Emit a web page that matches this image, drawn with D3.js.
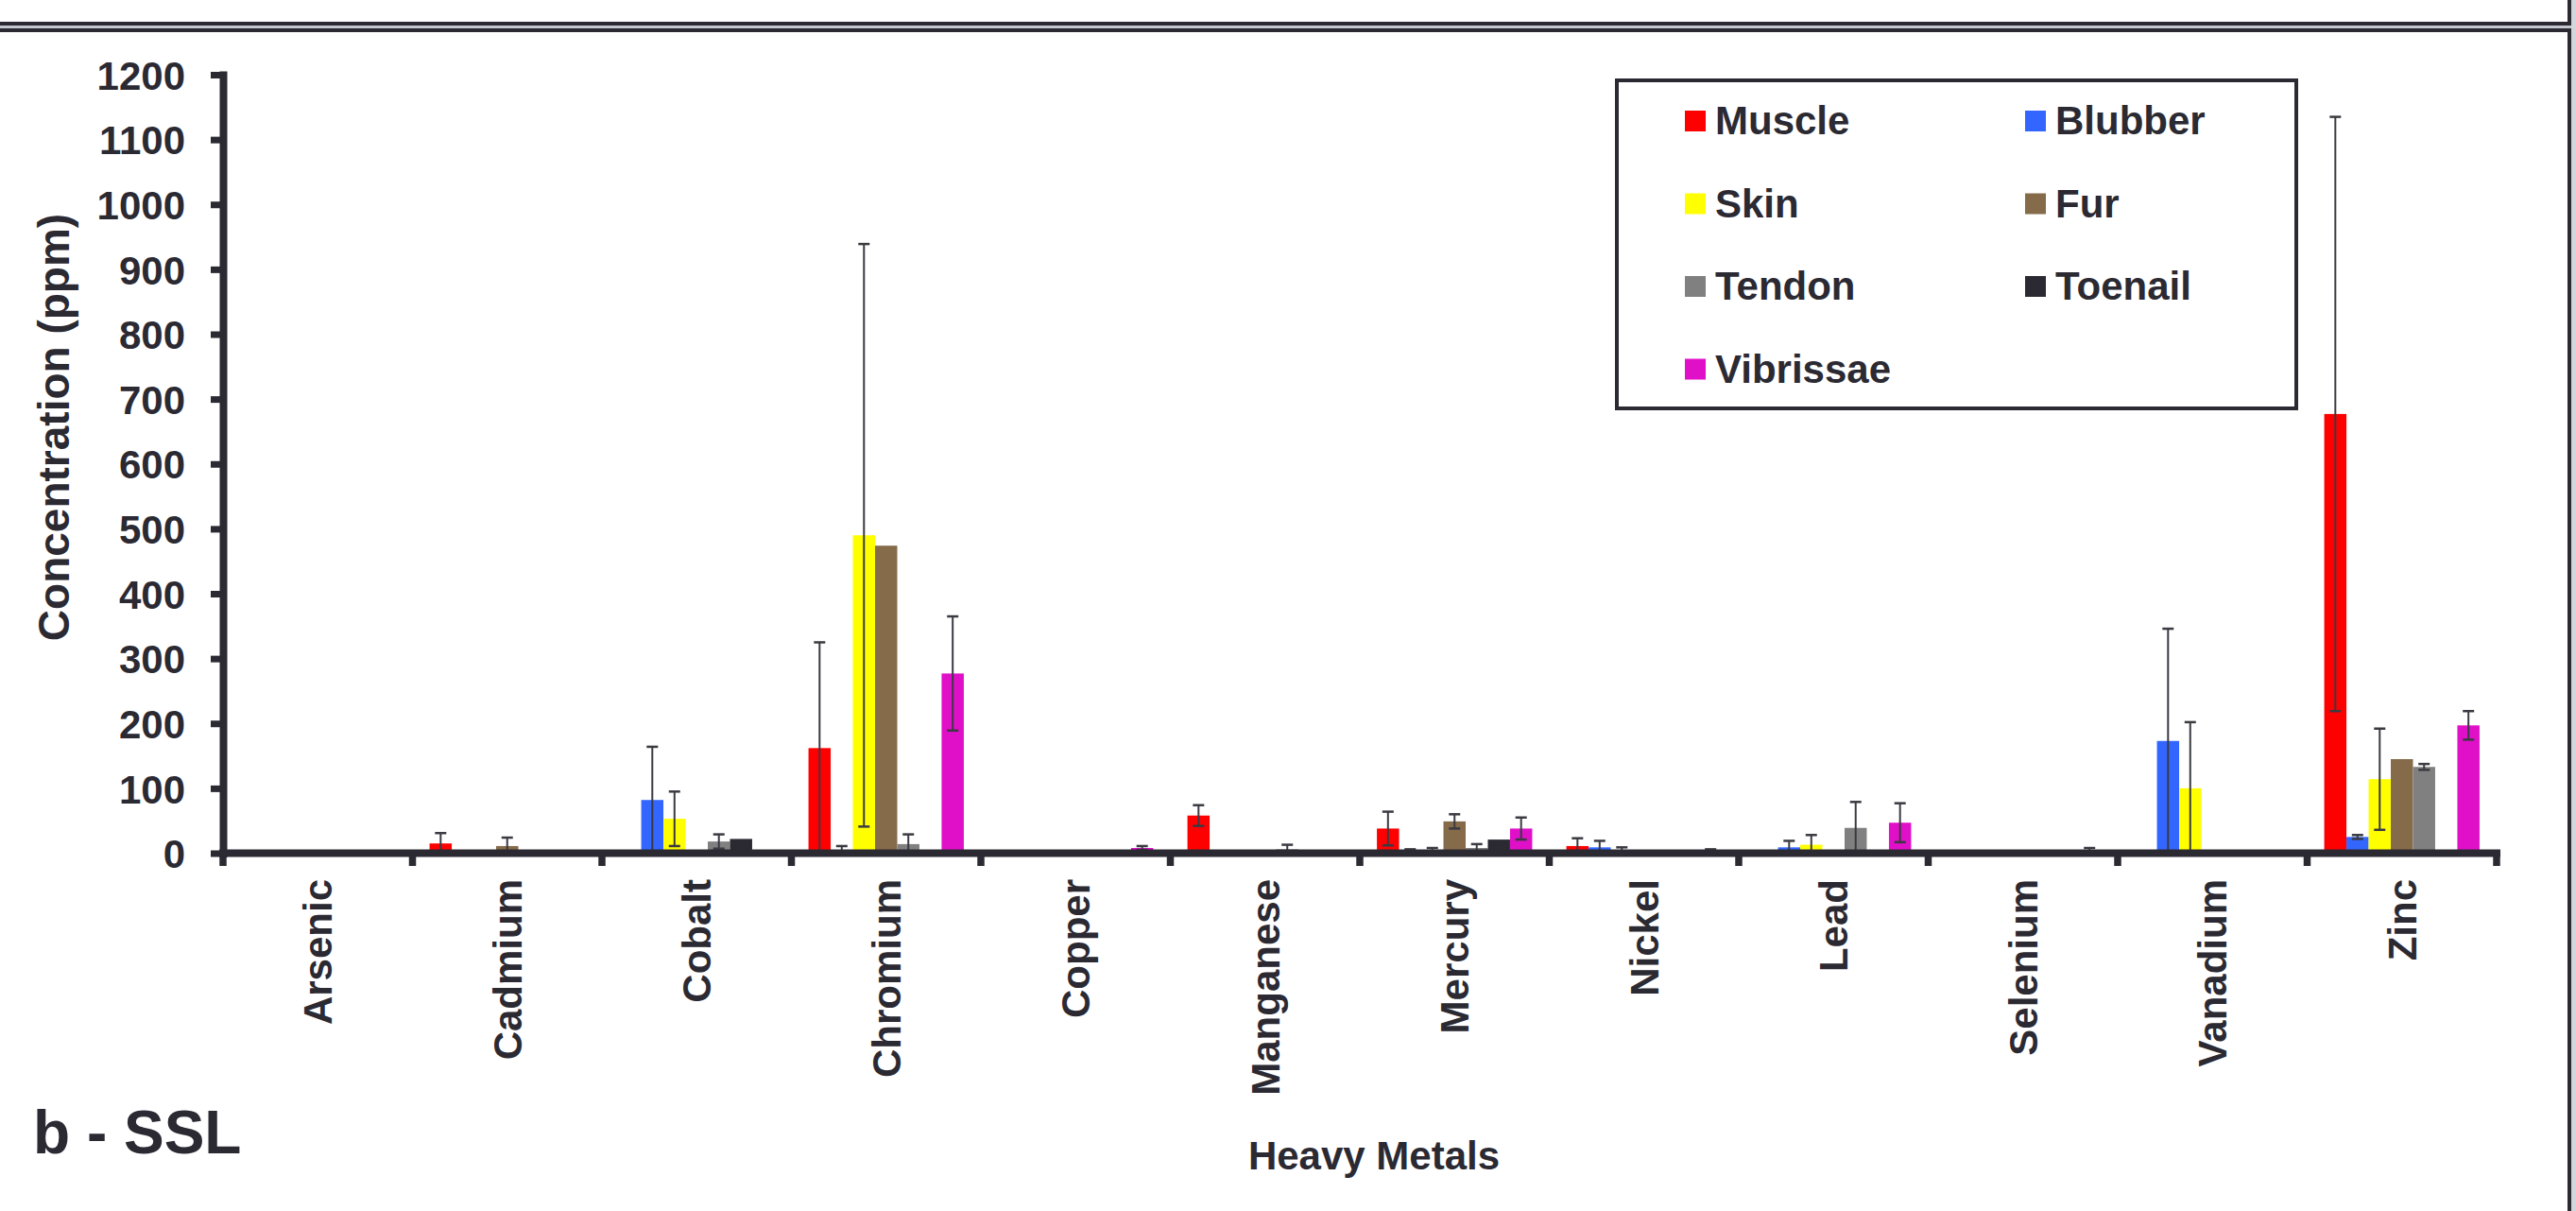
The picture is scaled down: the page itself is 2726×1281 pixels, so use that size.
<!DOCTYPE html>
<html>
<head>
<meta charset="utf-8">
<script src="https://cdn.jsdelivr.net/npm/d3@7"></script>
<style>
  html, body { margin: 0; padding: 0; background: #ffffff; }
  svg { display: block; }
  text { font-family: "Liberation Sans", Arial, sans-serif; font-weight: bold; fill: #2b2a33; }
</style>
</head>
<body>
<svg id="chart" width="2726" height="1281"></svg>
<script>
// Heavy metal concentrations (ppm) by tissue
const categories = ["Arsenic", "Cadmium", "Cobalt", "Chromium", "Copper", "Manganese",
                    "Mercury", "Nickel", "Lead", "Selenium", "Vanadium", "Zinc"];
const seriesNames = ["Muscle", "Blubber", "Skin", "Fur", "Tendon", "Toenail", "Vibrissae"];
const seriesColors = ["#ff0000", "#3366ff", "#ffff00", "#866b4a", "#808080", "#2b2a33", "#e010c8"];
const yTicks = [0, 100, 200, 300, 400, 500, 600, 700, 800, 900, 1000, 1100, 1200];

const muscle       = [0, 15, 0, 162, 0, 58, 38, 11, 0, 0, 0, 677];
const muscleErr    = [0, 16, 0, 163, 0, 16, 26, 12, 0, 0, 0, 458];
const blubber      = [0, 0, 82, 3, 0, 0, 3, 9, 9, 0, 173, 25];
const blubberErr   = [0, 0, 82, 8, 0, 0, 3, 10, 10, 0, 173, 3];
const skin         = [0, 0, 53, 490, 0, 0, 4, 4, 13, 0, 100, 114];
const skinErr      = [0, 0, 42, 449, 0, 0, 4, 5, 15, 0, 102, 78];
const fur          = [0, 11, 0, 474, 0, 0, 49, 0, 0, 0, 0, 145];
const furErr       = [0, 13, 0, 0, 0, 0, 11, 0, 0, 0, 0, 0];
const tendon       = [0, 0, 18, 14, 0, 6, 8, 0, 39, 0, 0, 133];
const tendonErr    = [0, 0, 11, 15, 0, 7, 6, 0, 40, 0, 0, 4.5];
const toenail      = [0, 0, 22, 0, 0, 0, 21, 0, 0, 0, 0, 0];
const toenailErr   = [0, 0, 0, 0, 0, 0, 0, 0, 0, 0, 0, 0];
const vibrissae    = [0, 0, 0, 277, 8, 0, 38, 3, 47, 4, 0, 197];
const vibrissaeErr = [0, 0, 0, 88, 3, 0, 17, 3, 30, 4, 0, 22];

const seriesValues = [muscle, blubber, skin, fur, tendon, toenail, vibrissae];
const seriesErrors = [muscleErr, blubberErr, skinErr, furErr, tendonErr, toenailErr, vibrissaeErr];

const ink = "#2b2a33";
const svg = d3.select("#chart");

// panel frame
const frame = svg.append("g");
frame.append("rect").attr("x", 0).attr("y", 23).attr("width", 2721).attr("height", 4).attr("fill", ink);
frame.append("rect").attr("x", 0).attr("y", 27).attr("width", 2721).attr("height", 3).attr("fill", "#c4c8cf");
frame.append("rect").attr("x", 0).attr("y", 30).attr("width", 2721).attr("height", 4).attr("fill", ink);
frame.append("rect").attr("x", 2717).attr("y", 0).attr("width", 4).attr("height", 27).attr("fill", ink);
frame.append("rect").attr("x", 2717).attr("y", 30).attr("width", 4).attr("height", 1251).attr("fill", ink);
frame.append("rect").attr("x", 2721).attr("y", 0).attr("width", 5).attr("height", 1281).attr("fill", "#d3d6db");

// scales
const x0 = d3.scaleBand().domain(categories).range([236, 2642]).paddingInner(0).paddingOuter(0);
const x1 = d3.scaleBand().domain(seriesNames).range([0, x0.bandwidth()]).paddingInner(0).paddingOuter(0.77);
const y = d3.scaleLinear().domain([0, 1200]).range([902.5, 79]);

const rows = [];
categories.forEach((cat, j) => {
  seriesNames.forEach((name, s) => {
    rows.push({ cat, name, color: seriesColors[s], value: seriesValues[s][j], err: seriesErrors[s][j] });
  });
});

// bars
svg.append("g").selectAll("rect")
  .data(rows.filter(d => d.value > 0))
  .join("rect")
  .attr("x", d => x0(d.cat) + x1(d.name))
  .attr("y", d => y(d.value))
  .attr("width", x1.bandwidth())
  .attr("height", d => y(0) - y(d.value))
  .attr("fill", d => d.color);

// error bars
const capW = 12;
const eg = svg.append("g").attr("stroke", "#3a3a42");
const withErr = rows.filter(d => d.err > 0);
const cx = d => x0(d.cat) + x1(d.name) + x1.bandwidth() / 2;
const lo = d => Math.max(0, d.value - d.err);
eg.selectAll("line.stem").data(withErr).join("line").attr("class", "stem")
  .attr("x1", cx).attr("x2", cx)
  .attr("y1", d => y(d.value + d.err)).attr("y2", d => y(lo(d)))
  .attr("stroke-width", 2);
eg.selectAll("line.capTop").data(withErr).join("line").attr("class", "capTop")
  .attr("x1", d => cx(d) - capW / 2).attr("x2", d => cx(d) + capW / 2)
  .attr("y1", d => y(d.value + d.err)).attr("y2", d => y(d.value + d.err))
  .attr("stroke-width", 2.5);
eg.selectAll("line.capBot").data(withErr).join("line").attr("class", "capBot")
  .attr("x1", d => cx(d) - capW / 2).attr("x2", d => cx(d) + capW / 2)
  .attr("y1", d => y(lo(d))).attr("y2", d => y(lo(d)))
  .attr("stroke-width", 2.5);

// y axis
const yAxis = svg.append("g").attr("transform", "translate(236,0)")
  .call(d3.axisLeft(y).tickValues(yTicks).tickSize(13).tickSizeOuter(0).tickPadding(27).tickFormat(d3.format("d")));
yAxis.select(".domain").attr("stroke", ink).attr("stroke-width", 8).attr("stroke-linecap", "square");
yAxis.selectAll(".tick line").attr("stroke", ink).attr("stroke-width", 7);
yAxis.selectAll(".tick text").attr("font-size", 42).attr("font-family", null).attr("fill", ink).attr("dy", "0.36em");

// x axis
const xg = svg.append("g");
xg.append("line").attr("x1", 232).attr("x2", 2646).attr("y1", y(0)).attr("y2", y(0))
  .attr("stroke", ink).attr("stroke-width", 8);
const bounds = categories.map(c => x0(c)).concat([x0.range()[1]]);
xg.selectAll("line.tick").data(bounds).join("line").attr("class", "tick")
  .attr("x1", d => d).attr("x2", d => d)
  .attr("y1", y(0)).attr("y2", 916)
  .attr("stroke", ink).attr("stroke-width", 7.5);
xg.selectAll("text.cat").data(categories).join("text").attr("class", "cat")
  .attr("transform", c => `translate(${x0(c) + x0.bandwidth() / 2},930) rotate(-90)`)
  .attr("text-anchor", "end")
  .attr("dy", 15)
  .attr("font-size", 42)
  .text(c => c);

// axis titles
svg.append("text")
  .attr("transform", "translate(73,452) rotate(-90)")
  .attr("text-anchor", "middle")
  .attr("font-size", 46)
  .text("Concentration (ppm)");
svg.append("text")
  .attr("x", 1454).attr("y", 1237)
  .attr("text-anchor", "middle")
  .attr("font-size", 42)
  .text("Heavy Metals");
svg.append("text")
  .attr("x", 35).attr("y", 1220)
  .attr("font-size", 64)
  .text("b - SSL");

// legend
const lg = svg.append("g");
lg.append("rect").attr("x", 1711).attr("y", 85).attr("width", 719).attr("height", 347)
  .attr("fill", "#ffffff").attr("stroke", ink).attr("stroke-width", 4);
const legendCols = [1783, 2143];
const legendRowTop = [117, 204.5, 292, 379.5];
const items = lg.selectAll("g.item").data(seriesNames).join("g").attr("class", "item")
  .attr("transform", (d, i) => `translate(${legendCols[i % 2]},${legendRowTop[Math.floor(i / 2)]})`);
items.append("rect").attr("width", 22).attr("height", 22).attr("fill", (d, i) => seriesColors[i]);
items.append("text").attr("x", 32).attr("y", 25).attr("font-size", 42).text(d => d);
</script>
</body>
</html>
